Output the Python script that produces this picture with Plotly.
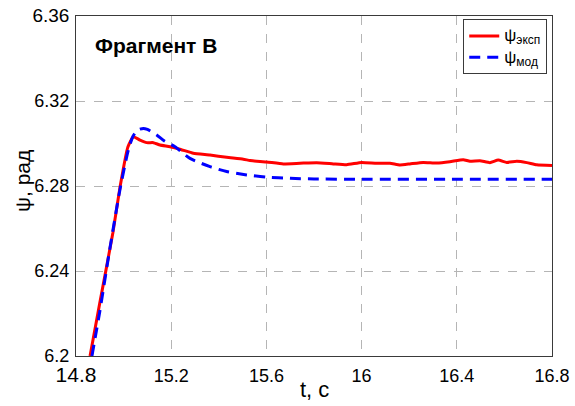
import plotly.graph_objects as go

# Experimental curve (psi_exp)
t_exp = [14.859, 14.90, 14.955, 14.985, 15.018, 15.041, 15.069, 15.097, 15.125, 15.153,
         15.195, 15.24, 15.293, 15.363, 15.433, 15.503, 15.531, 15.573, 15.601, 15.671,
         15.741, 15.811, 15.881, 15.937, 16.000, 16.063, 16.119, 16.161, 16.203, 16.259,
         16.316, 16.371, 16.427, 16.455, 16.497, 16.539, 16.574, 16.610, 16.652, 16.694,
         16.736, 16.8]
psi_exp = [6.2, 6.225, 6.258, 6.2795, 6.2984, 6.3032, 6.3016, 6.3004, 6.3004, 6.2993,
           6.2985, 6.2972, 6.2954, 6.2946, 6.2935, 6.2926, 6.2920, 6.2915, 6.2913, 6.2904,
           6.2907, 6.2910, 6.2904, 6.2900, 6.2911, 6.2907, 6.2907, 6.2899, 6.2904, 6.2911,
           6.2908, 6.2914, 6.2924, 6.2916, 6.2919, 6.2910, 6.2922, 6.2911, 6.2916, 6.2910,
           6.2900, 6.2896]

# Model curve (psi_mod)
t_mod = [14.867, 14.90, 14.94, 14.985, 15.02, 15.04, 15.06, 15.083, 15.10, 15.139,
         15.17, 15.216, 15.279, 15.363, 15.433, 15.517, 15.60, 15.70, 15.80, 16.0,
         16.4, 16.8]
psi_mod = [6.2, 6.221, 6.249, 6.2785, 6.297, 6.3035, 6.3064, 6.3071, 6.3066, 6.3040,
           6.3013, 6.2985, 6.2930, 6.2891, 6.2868, 6.2852, 6.2842, 6.2836, 6.2833, 6.2832,
           6.2832, 6.2832]

x_ticks = [14.8, 15.2, 15.6, 16.0, 16.4, 16.8]
x_ticktext = ['<span style="font-size:21px">14.8</span>', '15.2', '15.6', '16', '16.4', '16.8']
y_ticks = [6.2, 6.24, 6.28, 6.32, 6.36]
y_ticktext = ['6.2', '6.24', '6.28', '6.32', '<span style="font-size:19px">6.36</span>']

FONT = 'Liberation Sans, Arial'

name_exp = '<span style="font-size:17px">ψ</span><sub><span style="font-size:12px">эксп</span></sub>'
name_mod = '<span style="font-size:17px">ψ</span><sub><span style="font-size:12px">мод</span></sub>'

fig = go.Figure()
fig.add_trace(go.Scatter(x=t_exp, y=psi_exp, mode='lines', name=name_exp,
                         line=dict(color='#ff0000', width=3, shape='spline', smoothing=0.4)))
fig.add_trace(go.Scatter(x=t_mod, y=psi_mod, mode='lines', name=name_mod,
                         line=dict(color='#0000ff', width=3, dash='11px,7px', shape='spline', smoothing=0.6)))

axis_common = dict(showline=True, linecolor='#3a3a3a', linewidth=1, mirror=True,
                   showgrid=True, gridcolor='#b5b5b5', griddash='dash', gridwidth=1,
                   zeroline=False, automargin=False,
                   tickfont=dict(family=FONT, size=18, color='black'))

fig.update_layout(
    width=575, height=406,
    margin=dict(l=76, r=23, t=16, b=50),
    paper_bgcolor='white', plot_bgcolor='white',
    font=dict(family=FONT, color='black'),
    xaxis=dict(range=[14.8, 16.8], tickvals=x_ticks, ticktext=x_ticktext,
               ticks='outside', ticklen=3, tickcolor='rgba(0,0,0,0)', **axis_common),
    yaxis=dict(range=[6.2, 6.36], tickvals=y_ticks, ticktext=y_ticktext,
               ticks='outside', ticklen=2, tickcolor='rgba(0,0,0,0)', **axis_common),
    legend=dict(x=0.99, y=0.99, xanchor='right', yanchor='top',
                bgcolor='white', bordercolor='#3a3a3a', borderwidth=1,
                font=dict(size=14), tracegroupgap=0, itemwidth=30),
    showlegend=True,
    annotations=[
        dict(text='<b>Фрагмент В</b>', xref='paper', yref='paper',
             x=(93 - 76) / 476, y=(356 - 45.5) / 340, xanchor='left', yanchor='middle',
             showarrow=False, font=dict(size=21, color='black')),
        dict(text='t, c', xref='paper', yref='paper',
             x=(314 - 76) / 476, y=(356 - 389) / 340, xanchor='center', yanchor='middle',
             showarrow=False, font=dict(size=22, color='black')),
        dict(text='ψ, рад', xref='paper', yref='paper', textangle=-90,
             x=(22 - 76) / 476, y=(356 - 181) / 340, xanchor='center', yanchor='middle',
             showarrow=False, font=dict(size=21, color='black')),
    ],
)

fig.write_html('out.html')
